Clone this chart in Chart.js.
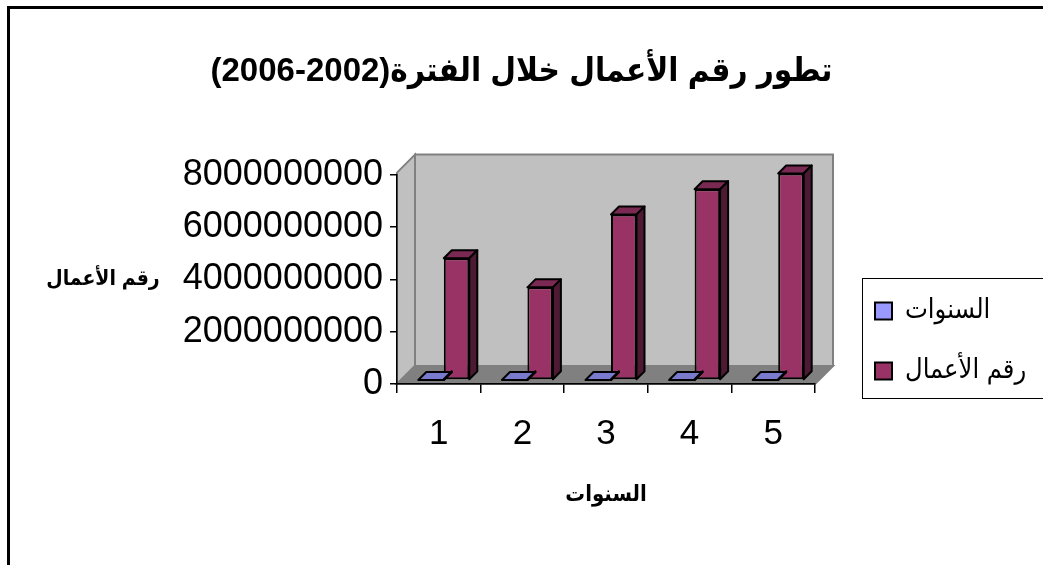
<!DOCTYPE html>
<html>
<head>
<meta charset="utf-8">
<script src="https://cdn.jsdelivr.net/npm/chart.js@4/dist/chart.umd.min.js"></script>
<style>
	body { margin: 0; background: #fff; }
	#wrap { width: 1043px; height: 565px; }
	canvas { direction: rtl; }
</style>
</head>
<body>
<div id="wrap"><canvas id="chart"></canvas></div>
<script>
// chart texts
const chartTitle = 'تطور رقم الأعمال خلال الفترة(2002-2006)';
const xAxisTitle = 'السنوات';
const yAxisTitle = 'رقم الأعمال';

// data
const categories = ['1', '2', '3', '4', '5'];
const seriesNames = ['السنوات', 'رقم الأعمال'];
const yearValues = [2002, 2003, 2004, 2005, 2006];
const revenueValues = [4650000000, 3540000000, 6320000000, 7290000000, 7890000000];
const yMax = 8000000000;
const yStep = 2000000000;

const FONT = '"Liberation Sans", "DejaVu Sans Condensed", "DejaVu Sans", sans-serif';
const clrYears = '#9999ff';
const clrRevenue = '#993366';

function shade(hex, k)
{
	const n = parseInt(hex.slice(1), 16);
	const r = Math.round(((n >> 16) & 255) * k);
	const g = Math.round(((n >> 8) & 255) * k);
	const b = Math.round((n & 255) * k);
	return 'rgb(' + r + ',' + g + ',' + b + ')';
}

function poly(ctx, pts, fill)
{
	ctx.beginPath();
	ctx.moveTo(pts[0][0], pts[0][1]);
	for(let i = 1; i < pts.length; ++i) {
		ctx.lineTo(pts[i][0], pts[i][1]);
	}
	ctx.closePath();
	ctx.fillStyle = fill;
	ctx.fill();
	ctx.stroke();
}

// fake 3d: walls, floor, bar depth, legend box, outer frame
const box3d = {
	id: 'box3d',
	beforeDraw(chart, args, opts) {
		const ctx = chart.ctx;
		const a = chart.chartArea;
		const d = opts.wallDepth;
		const top = a.top - 2;
		ctx.save();
		ctx.lineWidth = 2;
		ctx.strokeStyle = '#808080';
		ctx.lineJoin = 'miter';
		poly(ctx, [[a.left, top], [a.left + d, top - d], [a.left + d, a.bottom - d], [a.left, a.bottom]], '#c0c0c0');
		poly(ctx, [[a.left + d, top - d], [a.right + d, top - d], [a.right + d, a.bottom - d], [a.left + d, a.bottom - d]], '#c0c0c0');
		poly(ctx, [[a.left, a.bottom], [a.left + d, a.bottom - d], [a.right + d, a.bottom - d], [a.right, a.bottom]], '#808080');
		ctx.restore();
	},
	beforeDatasetDraw(chart, args, opts) {
		chart.ctx.save();
		chart.ctx.translate(opts.barShiftX, -opts.barShiftY);
	},
	afterDatasetDraw(chart, args, opts) {
		const ctx = chart.ctx;
		const dx = opts.barDepth;
		const color = chart.data.datasets[args.index].backgroundColor;
		ctx.lineWidth = 2;
		ctx.strokeStyle = '#000';
		ctx.lineJoin = 'round';
		args.meta.data.forEach(el => {
			const p = el.getProps(['x', 'y', 'base', 'width'], true);
			const l = p.x - p.width / 2;
			const r = p.x + p.width / 2;
			poly(ctx, [[l, p.y], [l + dx, p.y - dx], [r + dx, p.y - dx], [r, p.y]], shade(color, 0.8));
			poly(ctx, [[r, p.y], [r + dx, p.y - dx], [r + dx, p.base - dx], [r, p.base]], shade(color, 0.5));
		});
		ctx.restore();
	},
	afterDraw(chart, args, opts) {
		const ctx = chart.ctx;
		const a = chart.chartArea;
		ctx.save();

		// y axis title, horizontal
		ctx.fillStyle = '#000';
		ctx.font = 'bold 21px ' + FONT;
		ctx.textAlign = 'center';
		ctx.textBaseline = 'middle';
		ctx.fillText(yAxisTitle, opts.yTitleX, (a.top + a.bottom) / 2);

		// legend
		const lg = opts.legend;
		ctx.lineWidth = 1;
		ctx.strokeStyle = '#000';
		ctx.fillStyle = '#fff';
		ctx.fillRect(lg.left, lg.top, lg.width, lg.height);
		ctx.strokeRect(lg.left + 0.5, lg.top + 0.5, lg.width, lg.height);
		ctx.font = '27px ' + FONT;
		ctx.textAlign = 'left';
		chart.data.datasets.forEach((ds, i) => {
			const cy = lg.rowY[i];
			ctx.fillStyle = ds.backgroundColor;
			ctx.lineWidth = 2;
			ctx.fillRect(lg.swatchX, cy - lg.swatch / 2, lg.swatch, lg.swatch);
			ctx.strokeRect(lg.swatchX, cy - lg.swatch / 2, lg.swatch, lg.swatch);
			ctx.fillStyle = '#000';
			ctx.fillText(ds.label, lg.textX, cy);
		});

		// outer frame (top and left only visible)
		ctx.lineWidth = 3;
		ctx.beginPath();
		ctx.moveTo(8.5, chart.height);
		ctx.lineTo(8.5, 7.5);
		ctx.lineTo(chart.width, 7.5);
		ctx.stroke();
		ctx.restore();
	}
};

const chart = new Chart('chart', {
	type: 'bar',
	data: {
		labels: categories,
		datasets: [
			{
				label: seriesNames[0],
				data: yearValues,
				backgroundColor: clrYears,
				borderColor: '#000',
				borderWidth: 2,
				borderSkipped: false
			}, {
				label: seriesNames[1],
				data: revenueValues,
				backgroundColor: clrRevenue,
				borderColor: '#000',
				borderWidth: 2,
				borderSkipped: false
			}
		]
	},
	options: {
		maintainAspectRatio: false,
		animation: false,
		layout: {
			padding: 0
		},
		datasets: {
			bar: {
				categoryPercentage: 0.61,
				barPercentage: 1.0
			}
		},
		scales: {
			x: {
				afterFit: s => { s.height = 181; },
				ticks: {
					color: '#000',
					padding: 20,
					font: { family: FONT, size: 35 }
				},
				grid: {
					drawOnChartArea: false,
					tickLength: 9,
					color: '#000',
					lineWidth: 1.5
				},
				border: { color: '#000', width: 1.5 },
				title: {
					display: true,
					text: xAxisTitle,
					color: '#000',
					font: { family: FONT, size: 22, weight: 'bold' },
					padding: { top: 0, bottom: 57 }
				}
			},
			y: {
				min: 0,
				max: yMax,
				afterFit: s => { s.width = 397; },
				ticks: {
					stepSize: yStep,
					color: '#000',
					padding: 7,
					font: { family: FONT, size: 36 },
					callback: v => String(v)
				},
				grid: {
					drawOnChartArea: false,
					tickLength: 7,
					color: '#000',
					lineWidth: 1.5
				},
				border: { color: '#000', width: 1.5 }
			},
			// empty right axis: only reserves room for the wall depth and legend
			yRight: {
				type: 'linear',
				position: 'right',
				afterFit: s => { s.width = 228; },
				ticks: { display: false },
				grid: { display: false },
				border: { display: false }
			}
		},
		plugins: {
			title: {
				display: true,
				text: chartTitle,
				color: '#000',
				font: { family: FONT, size: 33, weight: 'bold' },
				padding: { top: 52, bottom: 83 }
			},
			legend: { display: false },
			tooltip: { enabled: false },
			box3d: {
				wallDepth: 18,
				barShiftX: 5,
				barShiftY: 4,
				barDepth: 8,
				yTitleX: 103,
				legend: {
					left: 862, top: 278, width: 200, height: 120,
					rowY: [311, 371], swatch: 17, swatchX: 875, textX: 905
				}
			}
		}
	},
	plugins: [box3d]
});
</script>
</body>
</html>
